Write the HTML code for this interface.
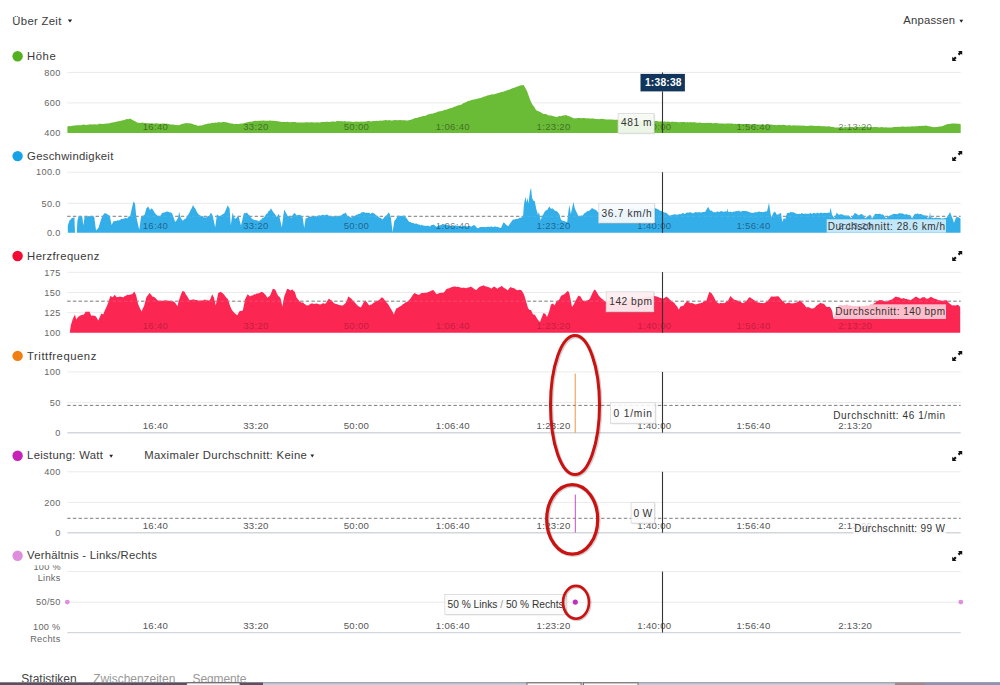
<!DOCTYPE html><html><head><meta charset="utf-8"><style>
html,body{margin:0;padding:0;background:#fff;width:1000px;height:685px;overflow:hidden}
svg{position:absolute;left:0;top:0}
text{font-family:"Liberation Sans",sans-serif}
</style></head><body>
<svg width="1000" height="685" viewBox="0 0 1000 685">
<text x="12.3" y="24.5" font-size="11.3" fill="#3a3a3a" textLength="49.0" lengthAdjust="spacing" >Über Zeit</text>
<path d="M67.8,19.6 L72.2,19.6 L70,22.6Z" fill="#222"/>
<text x="903.3" y="24.2" font-size="11.3" fill="#3a3a3a" textLength="51.7" lengthAdjust="spacing" >Anpassen</text>
<path d="M959.4,19.8 L963.2,19.8 L961.3,22.8Z" fill="#222"/>
<circle cx="17.6" cy="56.2" r="5.2" fill="#55b020"/>
<text x="27.1" y="59.8" font-size="11.3" fill="#3a3a3a" textLength="28.6" lengthAdjust="spacing" >Höhe</text>
<g transform="translate(952.2,50.9)" fill="#111"><path d="M5.8,0 L10,0 L10,4.2 L8.7,2.9 L7.1,4.5 L5.5,2.9 L7.1,1.3Z"/><path d="M0,5.8 L0,10 L4.2,10 L2.9,8.7 L4.5,7.1 L2.9,5.5 L1.3,7.1Z"/></g>
<circle cx="17.6" cy="156.1" r="5.2" fill="#18a2e6"/>
<text x="27.1" y="159.7" font-size="11.3" fill="#3a3a3a" textLength="86.2" lengthAdjust="spacing" >Geschwindigkeit</text>
<g transform="translate(952.2,150.9)" fill="#111"><path d="M5.8,0 L10,0 L10,4.2 L8.7,2.9 L7.1,4.5 L5.5,2.9 L7.1,1.3Z"/><path d="M0,5.8 L0,10 L4.2,10 L2.9,8.7 L4.5,7.1 L2.9,5.5 L1.3,7.1Z"/></g>
<circle cx="17.6" cy="256.0" r="5.2" fill="#f20a35"/>
<text x="27.1" y="259.6" font-size="11.3" fill="#3a3a3a" textLength="72.2" lengthAdjust="spacing" >Herzfrequenz</text>
<g transform="translate(952.2,250.9)" fill="#111"><path d="M5.8,0 L10,0 L10,4.2 L8.7,2.9 L7.1,4.5 L5.5,2.9 L7.1,1.3Z"/><path d="M0,5.8 L0,10 L4.2,10 L2.9,8.7 L4.5,7.1 L2.9,5.5 L1.3,7.1Z"/></g>
<circle cx="17.6" cy="355.9" r="5.2" fill="#ef7f12"/>
<text x="27.1" y="359.5" font-size="11.3" fill="#3a3a3a" textLength="69.2" lengthAdjust="spacing" >Trittfrequenz</text>
<g transform="translate(952.2,350.9)" fill="#111"><path d="M5.8,0 L10,0 L10,4.2 L8.7,2.9 L7.1,4.5 L5.5,2.9 L7.1,1.3Z"/><path d="M0,5.8 L0,10 L4.2,10 L2.9,8.7 L4.5,7.1 L2.9,5.5 L1.3,7.1Z"/></g>
<circle cx="17.6" cy="455.8" r="5.2" fill="#c622b8"/>
<text x="27.1" y="459.4" font-size="11.3" fill="#3a3a3a" textLength="75.8" lengthAdjust="spacing" >Leistung: Watt</text>
<g transform="translate(952.2,450.9)" fill="#111"><path d="M5.8,0 L10,0 L10,4.2 L8.7,2.9 L7.1,4.5 L5.5,2.9 L7.1,1.3Z"/><path d="M0,5.8 L0,10 L4.2,10 L2.9,8.7 L4.5,7.1 L2.9,5.5 L1.3,7.1Z"/></g>
<circle cx="17.6" cy="555.7" r="5.2" fill="#df8ede"/>
<text x="27.1" y="559.3" font-size="11.3" fill="#3a3a3a" textLength="129.7" lengthAdjust="spacing" >Verhältnis - Links/Rechts</text>
<g transform="translate(952.2,550.9)" fill="#111"><path d="M5.8,0 L10,0 L10,4.2 L8.7,2.9 L7.1,4.5 L5.5,2.9 L7.1,1.3Z"/><path d="M0,5.8 L0,10 L4.2,10 L2.9,8.7 L4.5,7.1 L2.9,5.5 L1.3,7.1Z"/></g>
<path d="M109.3,454.8 L113,454.8 L111.15,457.8Z" fill="#222"/>
<text x="144.2" y="459.2" font-size="11.3" fill="#3a3a3a" textLength="162.6" lengthAdjust="spacing" >Maximaler Durchschnitt: Keine</text>
<path d="M310.5,454.6 L314.1,454.6 L312.3,457.4Z" fill="#222"/>
<line x1="67.4" y1="72.4" x2="960.7" y2="72.4" stroke="#eaeaea" stroke-width="1"/>
<line x1="67.4" y1="102.9" x2="960.7" y2="102.9" stroke="#eaeaea" stroke-width="1"/>
<line x1="67.4" y1="172.2" x2="960.7" y2="172.2" stroke="#eaeaea" stroke-width="1"/>
<line x1="67.4" y1="203.3" x2="960.7" y2="203.3" stroke="#eaeaea" stroke-width="1"/>
<line x1="67.4" y1="371.9" x2="960.7" y2="371.9" stroke="#eaeaea" stroke-width="1"/>
<line x1="67.4" y1="402.6" x2="960.7" y2="402.6" stroke="#eaeaea" stroke-width="1"/>
<line x1="67.4" y1="471.8" x2="960.7" y2="471.8" stroke="#eaeaea" stroke-width="1"/>
<line x1="67.4" y1="502.4" x2="960.7" y2="502.4" stroke="#eaeaea" stroke-width="1"/>
<line x1="67.4" y1="571.6" x2="960.7" y2="571.6" stroke="#eaeaea" stroke-width="1"/>
<line x1="67.4" y1="602.2" x2="960.7" y2="602.2" stroke="#eaeaea" stroke-width="1"/>
<line x1="67.4" y1="272.3" x2="960.7" y2="272.3" stroke="#eaeaea" stroke-width="1"/>
<line x1="67.4" y1="292.5" x2="960.7" y2="292.5" stroke="#eaeaea" stroke-width="1"/>
<line x1="67.4" y1="312.6" x2="960.7" y2="312.6" stroke="#eaeaea" stroke-width="1"/>
<line x1="67.4" y1="432.7" x2="960.7" y2="432.7" stroke="#d3d6da" stroke-width="1.4"/>
<line x1="67.4" y1="532.7" x2="960.7" y2="532.7" stroke="#d3d6da" stroke-width="1.4"/>
<line x1="67.4" y1="632.6" x2="960.7" y2="632.6" stroke="#d3d6da" stroke-width="1.4"/>
<text x="60.6" y="75.6" font-size="9.2" fill="#666" text-anchor="end" letter-spacing="0.3">800</text>
<text x="60.6" y="106.1" font-size="9.2" fill="#666" text-anchor="end" letter-spacing="0.3">600</text>
<text x="60.6" y="136.1" font-size="9.2" fill="#666" text-anchor="end" letter-spacing="0.3">400</text>
<text x="60.6" y="175.4" font-size="9.2" fill="#666" text-anchor="end" letter-spacing="0.3">100.0</text>
<text x="60.6" y="206.5" font-size="9.2" fill="#666" text-anchor="end" letter-spacing="0.3">50.0</text>
<text x="60.6" y="236.0" font-size="9.2" fill="#666" text-anchor="end" letter-spacing="0.3">0.0</text>
<text x="60.6" y="375.1" font-size="9.2" fill="#666" text-anchor="end" letter-spacing="0.3">100</text>
<text x="60.6" y="405.8" font-size="9.2" fill="#666" text-anchor="end" letter-spacing="0.3">50</text>
<text x="60.6" y="435.9" font-size="9.2" fill="#666" text-anchor="end" letter-spacing="0.3">0</text>
<text x="60.6" y="475.0" font-size="9.2" fill="#666" text-anchor="end" letter-spacing="0.3">400</text>
<text x="60.6" y="505.6" font-size="9.2" fill="#666" text-anchor="end" letter-spacing="0.3">200</text>
<text x="60.6" y="535.9" font-size="9.2" fill="#666" text-anchor="end" letter-spacing="0.3">0</text>
<text x="60.6" y="275.5" font-size="9.2" fill="#666" text-anchor="end" letter-spacing="0.3">175</text>
<text x="60.6" y="295.7" font-size="9.2" fill="#666" text-anchor="end" letter-spacing="0.3">150</text>
<text x="60.6" y="315.8" font-size="9.2" fill="#666" text-anchor="end" letter-spacing="0.3">125</text>
<text x="60.6" y="335.9" font-size="9.2" fill="#666" text-anchor="end" letter-spacing="0.3">100</text>
<clipPath id="c1"><rect x="0" y="565.3" width="100" height="20"/></clipPath>
<text x="61" y="569.8" font-size="9.2" fill="#666" text-anchor="end" letter-spacing="0.3" clip-path="url(#c1)">100 %</text>
<text x="60.6" y="581" font-size="9.2" fill="#666" text-anchor="end" letter-spacing="0.3">Links</text>
<text x="60.6" y="605.4" font-size="9.2" fill="#666" text-anchor="end" letter-spacing="0.3">50/50</text>
<text x="60.6" y="629.8" font-size="9.2" fill="#666" text-anchor="end" letter-spacing="0.3">100 %</text>
<text x="60.6" y="641.6" font-size="9.2" fill="#666" text-anchor="end" letter-spacing="0.3">Rechts</text>
<line x1="67.2" y1="216.3" x2="960.7" y2="216.3" stroke="#707070" stroke-width="1" stroke-dasharray="3.4 2.28"/>
<line x1="67.2" y1="301.2" x2="960.7" y2="301.2" stroke="#6a6a6a" stroke-width="1" stroke-dasharray="3.4 2.28"/>
<line x1="67.2" y1="405.4" x2="960.7" y2="405.4" stroke="#7d7d7d" stroke-width="1" stroke-dasharray="3.4 2.28"/>
<line x1="67.2" y1="518.3" x2="960.7" y2="518.3" stroke="#7d7d7d" stroke-width="1" stroke-dasharray="3.4 2.28"/>
<path d="M67.4,132.9 L67.4,126.4 L68.9,126.0 L70.4,126.3 L71.9,126.0 L73.5,125.6 L75.0,125.5 L76.5,125.3 L78.0,125.2 L79.5,125.2 L81.0,125.2 L82.5,124.7 L84.0,124.6 L85.5,125.0 L87.0,124.7 L88.5,124.8 L90.0,124.3 L91.5,124.4 L93.0,124.5 L94.5,124.2 L96.0,124.5 L97.5,124.4 L99.0,123.8 L100.5,123.7 L102.0,123.9 L103.5,124.1 L105.0,123.7 L106.5,123.5 L108.0,123.6 L109.5,123.2 L111.0,122.7 L112.5,122.5 L114.0,122.3 L115.5,122.0 L117.0,121.5 L118.5,121.2 L120.0,121.0 L121.7,120.4 L123.3,120.2 L125.0,119.7 L126.7,119.1 L128.3,119.2 L130.0,118.6 L131.8,119.6 L133.5,120.6 L135.2,121.3 L137.0,122.4 L138.8,122.8 L140.5,122.9 L142.2,122.6 L144.0,123.0 L145.5,122.9 L147.1,123.2 L148.6,123.3 L150.2,123.4 L151.7,123.2 L153.2,123.5 L154.8,123.4 L156.3,123.3 L157.8,123.5 L159.4,123.7 L160.9,123.7 L162.5,123.6 L164.0,123.6 L165.6,123.8 L167.1,123.7 L168.7,124.0 L170.2,124.5 L171.8,124.4 L173.3,124.5 L174.9,124.9 L176.4,125.1 L178.0,125.2 L179.6,124.9 L181.2,124.2 L182.8,123.8 L184.4,123.4 L186.0,123.0 L187.7,123.3 L189.3,123.3 L191.0,123.4 L192.8,124.0 L194.5,124.7 L196.2,125.1 L198.0,126.0 L199.6,125.4 L201.1,125.4 L202.7,125.2 L204.2,124.6 L205.8,124.2 L207.3,123.7 L208.9,123.5 L210.4,123.4 L212.0,122.8 L213.5,122.9 L215.0,122.6 L216.5,122.7 L218.0,122.2 L219.5,122.3 L221.0,122.5 L222.5,122.1 L224.0,122.0 L225.7,122.3 L227.3,122.5 L229.0,123.0 L230.7,123.6 L232.3,123.4 L234.0,124.0 L235.5,124.1 L237.0,124.1 L238.5,124.1 L240.0,123.8 L241.6,123.6 L243.1,123.4 L244.7,122.9 L246.2,122.6 L247.8,122.2 L249.3,121.7 L250.9,121.8 L252.4,121.4 L254.0,121.0 L255.5,120.8 L257.0,120.9 L258.5,120.8 L260.0,120.8 L261.7,120.7 L263.3,120.6 L265.0,120.7 L266.7,120.7 L268.3,120.7 L270.0,120.6 L271.7,120.7 L273.3,120.7 L275.0,120.9 L276.7,121.1 L278.3,121.5 L280.0,121.6 L281.5,121.9 L283.1,121.9 L284.6,122.0 L286.2,122.1 L287.7,121.8 L289.2,122.3 L290.8,122.2 L292.3,122.0 L293.8,122.0 L295.4,122.1 L296.9,122.6 L298.5,122.4 L300.0,122.6 L301.5,122.4 L303.1,122.6 L304.6,122.5 L306.2,122.3 L307.7,122.3 L309.2,122.5 L310.8,122.3 L312.3,122.3 L313.8,122.6 L315.4,122.4 L316.9,122.3 L318.5,122.4 L320.0,122.4 L321.5,122.0 L323.1,122.1 L324.6,122.1 L326.2,121.8 L327.7,121.7 L329.2,122.1 L330.8,121.8 L332.3,121.5 L333.8,121.6 L335.4,121.7 L336.9,121.1 L338.5,121.0 L340.0,121.2 L341.5,121.0 L343.1,121.4 L344.6,121.1 L346.2,121.5 L347.7,121.5 L349.2,121.5 L350.8,121.4 L352.3,121.9 L353.8,121.8 L355.4,121.7 L356.9,121.5 L358.5,121.8 L360.0,121.8 L361.5,121.6 L363.1,121.7 L364.6,121.4 L366.2,121.5 L367.7,121.1 L369.2,121.1 L370.8,121.4 L372.3,121.3 L373.8,120.9 L375.4,121.1 L376.9,120.7 L378.5,121.0 L380.0,120.6 L381.5,120.7 L383.1,120.5 L384.6,120.3 L386.2,120.1 L387.7,120.6 L389.2,120.0 L390.8,120.5 L392.3,120.5 L393.8,120.2 L395.4,119.9 L396.9,120.3 L398.5,120.3 L400.0,120.0 L401.6,120.2 L403.2,120.2 L404.8,120.3 L406.4,120.4 L408.0,120.6 L409.5,120.0 L411.0,119.8 L412.5,119.2 L414.0,118.6 L415.5,118.1 L417.0,118.0 L418.5,117.3 L420.0,117.0 L421.6,116.6 L423.1,116.0 L424.7,115.9 L426.2,115.5 L427.8,114.5 L429.3,114.2 L430.9,113.8 L432.4,113.7 L434.0,113.0 L435.6,112.7 L437.1,112.0 L438.7,111.5 L440.2,111.3 L441.8,111.0 L443.3,110.6 L444.9,109.8 L446.4,109.7 L448.0,109.0 L449.5,108.6 L451.0,108.0 L452.5,107.8 L454.0,106.8 L455.5,106.6 L457.0,105.8 L458.5,105.3 L460.0,105.0 L461.6,104.4 L463.2,103.2 L464.8,102.8 L466.4,101.9 L468.0,101.0 L469.5,100.8 L471.0,100.2 L472.5,99.8 L474.0,99.4 L475.5,99.3 L477.0,98.8 L478.5,98.6 L480.0,98.0 L481.7,97.7 L483.3,96.8 L485.0,96.5 L486.7,95.8 L488.3,95.2 L490.0,95.0 L491.7,94.3 L493.3,94.4 L495.0,94.0 L496.7,93.6 L498.3,92.9 L500.0,92.6 L501.7,92.1 L503.3,91.7 L505.0,90.9 L506.7,90.5 L508.3,89.8 L510.0,89.4 L511.7,88.5 L513.3,87.9 L515.0,87.6 L516.7,86.8 L518.3,86.3 L520.0,85.4 L521.8,85.2 L523.6,85.0 L525.3,87.9 L527.0,91.0 L529.0,96.7 L531.0,102.0 L532.7,104.9 L534.3,107.0 L536.0,110.0 L537.6,110.9 L539.2,111.4 L540.8,112.2 L542.4,113.4 L544.0,114.0 L545.5,114.1 L547.0,114.6 L548.5,115.4 L550.0,115.5 L551.5,115.6 L553.0,116.1 L554.5,116.5 L556.0,117.0 L557.7,116.8 L559.3,116.1 L561.0,116.2 L562.7,115.6 L564.3,115.6 L566.0,115.0 L568.0,116.0 L570.0,116.6 L572.0,117.5 L574.0,118.6 L575.5,118.3 L577.0,118.3 L578.5,117.9 L580.0,118.0 L581.5,118.2 L583.1,117.9 L584.6,117.9 L586.2,118.6 L587.7,118.3 L589.2,118.5 L590.8,118.5 L592.3,118.5 L593.8,118.4 L595.4,119.0 L596.9,119.1 L598.5,119.2 L600.0,119.0 L601.5,118.8 L603.1,119.0 L604.6,119.3 L606.2,119.6 L607.7,119.4 L609.2,119.6 L610.8,119.6 L612.3,119.5 L613.8,119.7 L615.4,119.7 L616.9,119.7 L618.5,119.7 L620.0,120.0 L621.5,119.9 L623.1,120.4 L624.6,120.1 L626.2,120.3 L627.7,120.4 L629.2,120.6 L630.8,120.3 L632.3,120.3 L633.8,120.4 L635.4,120.4 L636.9,120.8 L638.5,120.9 L640.0,120.6 L641.5,120.7 L643.1,120.8 L644.6,120.9 L646.2,121.0 L647.7,120.8 L649.2,120.7 L650.8,120.9 L652.3,120.9 L653.8,121.2 L655.4,121.0 L656.9,121.0 L658.5,121.4 L660.0,121.4 L661.5,121.3 L663.1,121.7 L664.6,121.5 L666.2,121.8 L667.7,121.4 L669.2,121.7 L670.8,121.9 L672.3,121.5 L673.8,122.1 L675.4,121.7 L676.9,122.1 L678.5,122.2 L680.0,122.2 L681.5,121.9 L683.1,121.9 L684.6,122.1 L686.2,122.4 L687.7,122.1 L689.2,122.5 L690.8,122.1 L692.3,122.6 L693.8,122.1 L695.4,122.4 L696.9,122.7 L698.5,122.7 L700.0,122.6 L701.5,122.9 L703.1,122.9 L704.6,122.9 L706.2,122.9 L707.7,122.7 L709.2,122.9 L710.8,122.8 L712.3,123.2 L713.8,123.2 L715.4,123.0 L716.9,122.9 L718.5,123.5 L720.0,123.5 L721.5,123.4 L723.1,123.4 L724.6,123.7 L726.2,123.5 L727.7,123.5 L729.2,123.5 L730.8,123.5 L732.3,123.4 L733.8,123.9 L735.4,123.8 L736.9,123.9 L738.5,123.7 L740.0,124.0 L741.5,124.0 L743.1,123.9 L744.6,123.9 L746.2,124.0 L747.7,124.4 L749.2,124.2 L750.8,124.2 L752.3,124.4 L753.8,124.2 L755.4,124.1 L756.9,124.4 L758.5,124.5 L760.0,124.6 L761.5,124.5 L763.1,124.7 L764.6,124.8 L766.2,124.5 L767.7,124.7 L769.2,124.7 L770.8,124.6 L772.3,124.8 L773.8,124.9 L775.4,125.1 L776.9,125.2 L778.5,124.8 L780.0,125.0 L781.5,125.1 L783.1,124.8 L784.6,124.9 L786.2,125.2 L787.7,125.4 L789.2,125.0 L790.8,125.4 L792.3,125.5 L793.8,125.2 L795.4,125.5 L796.9,125.6 L798.5,125.4 L800.0,125.6 L801.5,125.7 L803.1,125.6 L804.6,125.8 L806.2,125.9 L807.7,126.0 L809.2,125.8 L810.8,125.6 L812.3,125.7 L813.8,125.7 L815.4,125.9 L816.9,126.1 L818.5,125.7 L820.0,126.0 L821.7,126.2 L823.3,126.3 L825.0,126.2 L826.7,126.4 L828.3,126.3 L830.0,126.6 L831.5,126.9 L833.0,126.7 L834.5,127.5 L836.0,127.4 L837.5,127.5 L839.0,127.4 L840.5,127.1 L842.0,127.5 L843.5,127.5 L845.0,127.0 L846.5,127.3 L848.0,127.3 L849.5,127.2 L851.0,127.1 L852.5,127.0 L854.0,127.2 L855.5,127.2 L857.0,126.8 L858.5,127.0 L860.0,126.8 L861.5,126.8 L863.1,126.7 L864.6,126.8 L866.1,126.7 L867.6,127.3 L869.2,127.3 L870.7,126.9 L872.2,127.2 L873.7,127.1 L875.3,127.0 L876.8,127.1 L878.3,127.2 L879.8,127.5 L881.4,127.1 L882.9,127.2 L884.4,127.4 L885.9,127.2 L887.5,127.6 L889.0,127.6 L890.6,127.6 L892.1,127.6 L893.7,127.1 L895.2,127.0 L896.8,127.1 L898.3,126.8 L899.9,126.9 L901.4,126.6 L903.0,126.6 L904.6,126.7 L906.2,126.7 L907.8,126.6 L909.3,126.7 L910.9,126.4 L912.5,126.3 L914.1,126.4 L915.7,126.3 L917.3,126.2 L918.9,126.0 L920.5,125.9 L922.0,125.7 L923.6,126.1 L925.2,125.6 L926.8,125.8 L928.7,126.3 L930.5,126.6 L932.4,127.0 L934.1,127.2 L935.8,127.0 L937.4,127.0 L939.1,126.5 L940.8,126.6 L942.7,125.9 L944.5,125.2 L946.4,124.5 L948.1,124.1 L949.9,124.0 L951.6,123.6 L953.4,123.4 L955.5,123.6 L957.6,123.8 L959.2,123.8 L960.7,124.3 L960.7,132.9Z" fill="#6abb36"/>
<path d="M67.8,232.8 L67.8,225.6 L69.6,220.2 L70.8,219.6 L72.0,217.8 L73.2,218.0 L74.4,217.0 L75.0,232.8 L76.8,232.8 L77.4,220.8 L78.6,216.6 L79.8,216.0 L81.0,216.0 L82.2,216.6 L83.4,225.6 L84.6,216.6 L86.0,216.9 L87.4,216.5 L88.8,216.0 L90.2,216.4 L91.5,216.0 L92.8,216.6 L94.2,216.6 L96.0,230.4 L97.2,229.3 L98.4,228.0 L99.9,223.3 L101.4,218.4 L102.6,216.0 L103.8,214.0 L105.0,213.0 L106.5,213.8 L108.0,214.8 L109.8,216.0 L111.6,225.0 L113.4,221.4 L114.8,220.9 L116.2,220.9 L117.6,220.2 L118.8,220.5 L120.0,220.0 L121.2,219.0 L122.4,218.9 L123.6,218.7 L124.8,218.3 L126.0,217.9 L127.2,218.4 L128.7,216.5 L130.2,216.0 L132.0,207.6 L133.5,201.6 L135.0,203.4 L136.2,216.0 L137.7,222.9 L139.2,229.8 L141.0,217.2 L142.8,216.0 L144.6,214.8 L146.4,208.2 L148.2,206.4 L150.0,210.0 L151.8,208.2 L153.3,210.3 L154.8,213.0 L157.2,215.4 L158.4,215.8 L159.6,216.6 L160.8,215.3 L162.0,213.0 L163.2,212.8 L164.4,212.6 L165.6,211.9 L166.8,211.4 L168.0,211.8 L169.4,212.2 L170.8,212.5 L172.2,213.6 L173.7,217.8 L175.2,222.0 L176.7,220.3 L178.2,217.2 L179.2,211.8 L180.4,217.2 L181.6,219.2 L182.8,220.8 L184.3,219.2 L185.8,218.4 L187.6,215.4 L189.1,213.3 L190.6,210.0 L191.8,207.9 L193.0,205.0 L194.2,207.2 L195.4,208.8 L197.2,212.4 L199.0,214.8 L200.2,215.6 L201.4,216.2 L202.6,216.0 L203.8,217.4 L205.0,217.2 L206.4,217.4 L207.8,215.9 L209.2,216.0 L211.0,212.4 L212.8,216.0 L215.2,227.4 L217.0,214.2 L218.2,215.5 L219.4,216.0 L221.0,215.5 L222.6,214.3 L224.2,213.6 L225.4,210.8 L226.6,208.0 L227.8,205.2 L229.6,208.8 L230.8,225.6 L232.6,212.4 L233.8,216.3 L235.0,219.0 L236.8,217.5 L238.6,216.0 L239.8,221.3 L241.0,225.6 L242.5,219.1 L244.0,213.0 L245.5,213.2 L247.0,212.4 L248.2,214.5 L249.4,215.3 L250.6,217.0 L251.8,218.4 L253.2,219.6 L254.7,219.9 L256.1,220.2 L257.6,220.4 L259.0,221.4 L260.2,220.1 L261.4,219.5 L262.6,217.7 L263.8,217.7 L265.0,216.0 L266.2,214.1 L267.4,213.5 L268.6,211.1 L269.8,210.4 L271.0,208.2 L272.5,210.9 L274.0,213.0 L275.5,215.1 L277.0,217.2 L278.8,213.6 L280.3,220.5 L281.8,227.4 L284.2,209.4 L285.4,211.8 L286.6,213.9 L287.8,216.0 L289.6,216.6 L291.4,217.8 L292.4,215.4 L293.6,213.8 L294.8,213.0 L296.6,215.4 L298.4,215.1 L300.2,214.8 L301.4,216.6 L302.6,217.2 L304.2,228.0 L305.6,218.4 L307.2,218.0 L308.8,216.6 L310.4,216.6 L311.6,216.9 L312.8,216.7 L314.0,216.9 L315.2,215.8 L316.4,216.4 L317.6,216.0 L319.0,215.2 L320.4,215.8 L321.8,215.1 L323.2,214.8 L324.6,215.5 L326.0,214.8 L327.2,214.6 L328.4,215.6 L329.6,216.4 L330.8,215.9 L332.0,216.6 L333.4,216.1 L334.8,216.9 L336.2,216.2 L337.6,216.5 L339.0,215.4 L340.4,216.0 L341.8,214.9 L343.1,213.7 L344.4,213.5 L345.8,212.4 L347.6,216.6 L349.2,216.2 L350.8,217.6 L352.4,217.2 L353.6,215.9 L354.8,216.3 L356.0,214.7 L357.2,214.8 L358.6,213.8 L359.9,213.9 L361.2,212.4 L362.6,212.2 L364.0,212.0 L365.3,212.9 L366.6,212.6 L368.0,213.0 L369.2,212.5 L370.4,213.9 L371.6,212.9 L372.8,212.8 L374.0,213.6 L375.2,214.2 L376.4,215.4 L377.6,216.0 L379.2,217.5 L380.8,217.9 L382.4,219.6 L383.6,218.2 L384.8,216.5 L386.0,216.0 L387.5,214.0 L389.0,212.2 L390.8,217.2 L392.6,232.2 L394.4,220.8 L395.6,219.4 L396.8,217.5 L398.0,215.4 L399.2,216.0 L400.4,215.8 L401.6,215.9 L402.8,215.7 L404.0,215.4 L405.4,216.9 L406.8,218.4 L409.2,222.0 L410.6,222.1 L411.9,223.1 L413.2,223.1 L414.6,223.8 L416.4,223.5 L418.2,224.4 L419.4,224.6 L420.6,225.5 L421.8,224.8 L423.0,225.6 L424.2,225.8 L425.4,225.7 L426.6,226.0 L427.8,225.6 L429.0,226.2 L430.2,226.4 L431.4,225.0 L432.6,225.0 L433.8,224.4 L436.2,226.8 L437.4,226.2 L438.6,225.2 L439.8,225.5 L441.0,225.0 L442.2,224.6 L443.4,224.5 L444.6,224.5 L445.8,224.8 L447.0,224.7 L448.2,225.5 L449.4,225.4 L450.6,226.2 L451.8,226.1 L453.0,225.6 L454.2,226.4 L455.4,225.3 L456.6,225.7 L457.8,225.5 L459.0,226.0 L460.2,226.1 L461.4,226.4 L462.6,226.4 L463.8,225.8 L465.0,226.2 L466.2,226.2 L467.4,226.5 L468.6,225.9 L469.8,226.0 L471.0,226.8 L472.5,225.8 L474.0,225.0 L475.5,226.0 L477.0,228.0 L478.2,228.2 L479.4,227.4 L480.6,227.1 L481.8,227.1 L483.0,227.0 L484.2,226.9 L485.4,227.2 L486.6,227.0 L487.8,226.7 L489.0,226.8 L490.2,226.9 L491.4,226.2 L492.6,227.0 L493.8,227.0 L495.0,226.2 L496.2,226.9 L497.4,226.8 L498.6,227.3 L499.8,227.8 L501.0,228.0 L503.4,222.6 L504.6,222.9 L505.8,224.4 L508.2,226.2 L509.7,224.0 L511.2,222.0 L513.0,219.6 L514.6,219.4 L516.2,218.8 L517.8,219.0 L519.5,217.8 L521.3,217.8 L523.1,215.6 L524.0,204.3 L525.4,196.7 L526.5,202.5 L527.4,198.0 L528.5,203.4 L529.9,191.7 L531.0,187.7 L532.1,198.0 L533.5,200.7 L534.8,201.2 L536.2,208.8 L538.0,215.1 L538.9,212.0 L540.2,217.8 L540.7,220.5 L542.0,216.0 L543.4,214.2 L544.7,211.5 L546.0,210.4 L547.4,209.7 L549.2,206.6 L551.0,208.8 L552.8,208.4 L554.6,210.6 L556.0,211.1 L557.3,211.5 L559.6,214.7 L560.9,219.6 L562.4,220.8 L563.9,221.0 L565.4,221.4 L567.2,222.3 L568.6,209.7 L569.5,205.2 L570.8,214.2 L572.6,206.1 L573.5,202.0 L574.9,208.8 L577.1,213.3 L578.9,216.9 L580.2,216.0 L581.6,215.6 L582.8,215.4 L584.0,213.6 L585.2,212.9 L587.0,211.3 L588.8,211.1 L590.4,209.8 L592.0,207.9 L594.2,209.3 L596.0,210.1 L597.8,212.0 L599.2,212.9 L600.6,212.4 L601.9,212.9 L603.2,212.4 L604.6,211.3 L606.0,211.6 L607.3,211.3 L608.6,211.2 L610.0,211.0 L611.2,210.5 L612.5,210.9 L613.8,210.0 L615.0,210.2 L616.2,210.2 L617.5,210.9 L618.8,209.5 L620.0,210.0 L621.2,210.2 L622.5,209.3 L623.8,209.7 L625.0,209.3 L626.2,209.3 L627.5,209.6 L628.8,209.0 L630.0,209.0 L631.2,208.5 L632.5,208.5 L633.8,208.4 L635.0,209.5 L636.2,209.2 L637.5,209.6 L638.8,209.3 L640.0,209.0 L641.2,208.3 L642.5,209.1 L643.8,209.2 L645.0,209.1 L646.2,208.7 L647.5,208.4 L648.8,208.5 L650.0,208.5 L651.6,208.8 L653.2,208.0 L654.8,208.2 L656.0,208.6 L657.2,209.0 L658.4,209.4 L659.6,210.6 L660.8,210.9 L662.0,211.0 L663.2,212.1 L664.4,212.4 L665.6,212.4 L666.8,213.2 L668.0,214.3 L669.2,215.8 L671.0,215.3 L672.8,214.8 L674.0,214.3 L675.2,214.4 L676.4,214.6 L677.6,214.8 L678.8,214.2 L680.0,213.9 L681.2,214.2 L682.4,213.0 L683.6,213.2 L684.8,213.9 L686.0,213.0 L687.2,212.4 L688.4,212.8 L689.6,212.2 L690.8,212.2 L692.0,213.3 L693.2,213.3 L694.4,212.8 L695.6,212.0 L696.8,212.2 L698.0,212.4 L699.2,211.9 L700.4,212.4 L701.6,212.4 L702.8,211.9 L704.0,211.9 L705.2,211.8 L707.0,208.8 L708.2,206.7 L710.0,210.6 L711.2,210.4 L712.4,211.3 L713.6,212.2 L714.8,212.2 L716.0,212.2 L717.2,211.4 L718.4,211.8 L719.6,211.9 L720.8,211.1 L722.0,211.2 L723.6,211.9 L725.2,211.3 L726.8,211.5 L727.4,208.2 L728.0,211.8 L729.2,212.0 L730.4,211.5 L731.6,212.3 L732.8,212.0 L734.0,211.5 L735.2,211.6 L736.4,210.9 L737.6,211.3 L738.8,210.6 L740.0,211.4 L741.2,211.7 L742.4,210.7 L743.6,211.1 L744.8,211.0 L746.0,211.0 L748.4,211.8 L749.6,212.0 L750.8,212.7 L752.0,212.7 L753.2,213.1 L754.4,212.6 L755.6,212.1 L756.8,212.6 L758.0,211.8 L759.3,211.5 L760.6,212.1 L761.9,211.9 L763.1,212.0 L764.4,212.1 L765.7,211.2 L767.0,211.5 L769.0,202.8 L770.2,211.2 L771.4,217.8 L773.2,213.0 L775.0,211.5 L776.8,214.8 L778.2,214.4 L779.6,213.5 L781.0,213.0 L782.2,222.0 L784.0,217.8 L785.2,219.6 L787.0,213.0 L788.2,212.8 L789.4,212.9 L790.6,211.8 L792.0,212.4 L793.3,212.0 L794.6,213.1 L796.0,213.6 L797.2,213.9 L798.4,214.1 L799.6,213.8 L800.8,214.0 L802.0,212.8 L803.2,214.1 L804.4,213.8 L805.6,213.6 L806.8,214.0 L808.0,213.4 L809.2,213.9 L810.4,212.8 L811.6,213.7 L812.8,213.6 L814.0,212.8 L815.2,213.5 L816.4,213.2 L817.6,212.6 L818.8,213.5 L820.0,213.0 L821.2,212.5 L822.4,213.2 L823.6,212.9 L824.8,212.7 L826.0,213.1 L827.2,213.0 L828.4,212.6 L829.6,213.0 L830.6,207.6 L832.0,214.8 L834.4,218.2 L836.8,212.4 L838.0,214.3 L839.2,214.8 L840.6,214.3 L841.9,214.3 L843.3,215.0 L844.7,215.6 L846.1,215.5 L847.4,215.7 L848.8,215.4 L850.0,216.8 L851.2,218.2 L853.0,215.8 L854.8,213.0 L856.0,213.6 L857.2,214.3 L858.4,215.4 L859.6,215.0 L860.8,213.9 L862.0,214.2 L863.2,214.9 L864.4,217.2 L865.6,218.2 L867.1,216.5 L868.5,216.1 L870.0,214.5 L872.0,218.5 L873.5,216.6 L875.0,214.0 L876.2,213.7 L877.5,214.0 L878.8,214.0 L880.0,213.5 L881.3,214.7 L882.7,214.3 L884.0,215.5 L886.0,218.5 L887.3,217.0 L888.7,216.3 L890.0,215.5 L891.2,215.1 L892.5,214.5 L893.8,213.7 L895.0,214.0 L896.2,213.9 L897.5,214.3 L898.8,213.3 L900.0,213.3 L901.2,213.6 L902.5,213.6 L903.8,213.9 L905.0,214.7 L906.2,214.1 L907.5,214.8 L908.8,214.8 L910.0,215.0 L912.0,218.5 L913.5,216.1 L915.0,213.5 L916.2,214.2 L917.5,213.2 L918.8,214.3 L920.0,214.0 L921.2,214.0 L922.4,214.8 L923.6,215.3 L924.8,215.4 L926.0,215.5 L928.0,218.5 L929.5,216.0 L930.0,212.0 L930.8,217.5 L932.2,217.5 L933.6,218.3 L935.0,218.0 L936.2,217.4 L937.5,218.2 L938.8,217.8 L940.0,218.0 L941.2,218.5 L942.5,218.4 L943.8,218.2 L945.0,218.0 L946.5,218.0 L947.8,215.7 L949.0,214.0 L950.0,212.0 L951.5,216.0 L952.8,219.1 L954.0,223.0 L956.0,217.5 L958.0,217.0 L959.2,217.7 L960.5,218.5 L960.5,232.8Z" fill="#34aee8"/>
<path d="M69.8,332.8 L69.8,332.6 L70.8,325.4 L72.6,319.4 L73.8,316.7 L75.0,314.6 L76.2,319.4 L78.0,317.0 L79.5,316.1 L81.0,315.2 L82.5,314.8 L84.0,314.6 L85.8,311.6 L87.0,311.7 L88.2,311.7 L89.4,311.6 L91.2,315.8 L92.8,315.6 L94.4,315.7 L96.0,316.4 L97.2,318.8 L98.4,320.6 L99.9,316.8 L101.4,313.4 L103.2,314.6 L105.0,310.1 L106.8,306.2 L108.0,303.3 L109.2,299.4 L110.4,296.0 L112.8,297.2 L114.6,294.8 L115.8,296.3 L117.0,297.2 L118.5,296.9 L120.0,296.6 L121.8,297.0 L123.6,297.2 L124.8,296.1 L126.0,295.7 L127.2,294.8 L128.8,295.0 L130.4,294.4 L132.0,294.2 L133.2,293.1 L134.4,291.6 L136.2,295.4 L138.0,303.8 L139.8,307.9 L141.6,311.6 L142.8,308.5 L144.0,306.2 L145.2,302.0 L146.4,297.2 L147.9,295.2 L149.4,293.0 L150.9,294.6 L152.4,296.6 L154.2,297.0 L156.0,298.4 L157.2,300.0 L158.4,300.8 L159.8,300.7 L161.3,300.8 L162.7,300.8 L164.2,300.5 L165.6,300.2 L166.8,300.8 L168.0,300.4 L169.2,301.0 L170.4,300.8 L171.6,301.5 L172.8,301.6 L174.0,301.4 L175.7,303.4 L177.4,306.2 L178.6,301.6 L179.8,297.8 L182.2,291.2 L183.4,291.2 L184.6,291.8 L185.8,294.4 L187.0,296.0 L188.2,298.0 L189.4,300.2 L191.0,300.1 L192.6,299.6 L194.2,299.6 L195.4,299.9 L196.6,300.1 L197.8,300.4 L199.0,300.8 L200.2,300.6 L201.4,300.4 L202.6,300.5 L203.8,300.0 L205.0,299.6 L206.2,300.2 L207.4,300.3 L208.6,300.5 L209.8,300.2 L212.2,294.2 L214.0,297.8 L215.8,305.6 L218.2,293.0 L219.4,292.6 L220.6,291.8 L222.4,293.0 L224.2,294.8 L225.4,296.6 L226.6,298.1 L227.8,299.0 L230.2,306.2 L231.4,309.0 L232.6,311.0 L233.8,312.3 L235.0,313.4 L236.2,314.5 L237.4,315.2 L238.6,312.8 L239.8,311.0 L241.3,311.0 L242.8,310.4 L245.2,299.0 L246.4,296.7 L247.6,294.2 L248.8,295.2 L250.0,296.6 L251.4,295.4 L252.8,295.4 L254.2,294.2 L255.4,294.5 L256.6,293.4 L257.8,293.6 L259.6,293.0 L261.4,291.8 L262.6,292.3 L263.8,293.0 L265.6,295.1 L267.4,297.8 L268.6,296.7 L269.8,296.0 L271.3,292.7 L272.8,288.8 L275.2,289.4 L276.7,293.1 L278.2,296.0 L279.4,296.7 L280.6,298.4 L282.4,306.8 L284.2,296.6 L285.7,292.8 L287.2,288.8 L288.7,289.2 L290.2,290.6 L292.4,289.6 L293.6,290.9 L294.8,291.8 L296.6,297.8 L298.1,299.4 L299.6,301.4 L301.4,302.4 L303.2,302.6 L304.4,304.1 L305.6,304.6 L306.8,305.6 L308.6,305.2 L310.4,303.8 L311.6,303.6 L312.8,303.4 L314.0,303.9 L315.2,303.8 L316.4,303.5 L317.6,303.8 L318.8,304.2 L320.0,304.4 L321.2,304.3 L322.4,303.6 L323.6,303.2 L324.8,303.8 L326.0,303.2 L327.5,300.6 L329.0,298.4 L330.5,300.1 L332.0,300.8 L333.5,302.7 L335.0,303.8 L336.4,304.1 L337.8,304.6 L339.2,305.0 L340.4,305.2 L341.6,305.5 L342.8,305.6 L344.6,303.9 L346.4,302.0 L348.2,296.6 L349.7,297.6 L351.2,298.4 L352.4,299.9 L353.6,301.6 L354.8,302.6 L356.6,304.4 L358.4,306.2 L359.6,306.7 L360.8,307.4 L362.3,304.9 L363.8,302.0 L365.6,300.8 L367.4,302.9 L369.2,305.6 L370.4,304.7 L371.6,304.6 L372.8,303.4 L374.0,302.6 L375.2,302.0 L376.4,300.9 L377.6,300.7 L378.8,300.2 L380.3,298.8 L381.8,297.2 L383.3,298.2 L384.8,300.2 L386.6,302.4 L388.4,304.4 L389.9,307.2 L391.4,309.8 L392.6,311.8 L393.8,314.6 L396.2,308.6 L397.6,307.9 L399.0,307.0 L400.4,306.2 L401.6,305.5 L402.8,304.3 L404.0,303.7 L405.2,302.6 L406.9,301.9 L408.6,300.8 L411.0,297.8 L412.2,295.7 L413.4,294.2 L414.6,293.0 L416.4,294.1 L418.2,294.8 L419.4,294.7 L420.6,293.4 L421.8,293.0 L423.0,292.9 L424.2,293.0 L425.4,292.7 L426.6,292.8 L428.4,291.9 L430.2,291.2 L431.7,290.4 L433.2,290.0 L434.4,291.3 L435.6,292.9 L436.8,294.2 L438.3,293.4 L439.8,293.0 L441.6,292.8 L443.4,292.8 L444.6,291.7 L445.8,289.7 L447.0,288.8 L448.2,288.5 L449.4,288.2 L450.6,287.6 L452.2,287.0 L453.8,286.5 L455.4,286.4 L456.6,287.0 L457.8,286.7 L459.0,287.0 L460.2,287.6 L461.4,287.7 L462.6,288.0 L463.8,287.6 L465.0,287.9 L466.2,288.2 L467.6,287.5 L469.0,287.5 L470.4,286.6 L471.9,287.3 L473.4,288.2 L474.9,289.5 L476.4,290.0 L477.9,288.2 L479.4,287.0 L480.8,286.2 L482.2,286.0 L483.6,285.2 L485.0,286.2 L486.4,286.4 L487.8,287.0 L489.6,287.6 L491.4,288.8 L492.9,287.3 L494.4,286.6 L495.9,287.7 L497.4,288.8 L498.8,287.5 L500.2,287.1 L501.6,285.8 L503.1,287.3 L504.6,288.2 L506.1,289.1 L507.6,290.6 L509.1,288.6 L510.6,287.0 L511.8,287.7 L513.0,287.9 L514.2,288.2 L516.6,290.0 L518.0,290.3 L519.4,289.8 L520.8,290.0 L522.0,291.0 L523.2,293.1 L524.5,296.0 L526.0,301.0 L528.0,308.0 L529.5,310.0 L531.0,310.0 L533.0,314.5 L534.5,314.5 L535.8,316.3 L537.0,318.5 L538.5,320.5 L540.0,322.0 L541.5,318.0 L543.5,313.0 L545.5,314.0 L547.0,317.0 L549.0,312.0 L551.0,304.5 L553.0,303.5 L554.5,305.5 L556.5,301.5 L557.8,300.5 L559.0,300.0 L561.0,296.0 L562.5,295.1 L564.0,294.5 L565.8,292.7 L567.5,291.0 L569.0,292.0 L570.5,299.0 L572.0,307.0 L574.0,304.0 L576.0,300.0 L577.2,297.7 L578.5,295.5 L580.5,296.5 L582.5,300.0 L584.5,301.5 L585.8,300.9 L587.0,300.5 L588.5,299.9 L590.0,298.5 L592.0,294.0 L593.2,291.4 L594.5,289.5 L595.8,290.5 L597.0,292.5 L598.5,295.2 L600.0,297.0 L601.5,298.6 L603.0,299.5 L604.2,301.0 L605.5,301.5 L606.7,301.3 L607.9,301.7 L609.1,301.6 L610.3,300.7 L611.5,301.1 L612.8,301.1 L614.0,300.8 L615.2,300.5 L616.4,300.2 L617.6,300.1 L618.8,299.9 L620.0,300.0 L621.2,299.4 L622.5,299.8 L623.8,299.4 L625.0,299.8 L626.2,298.9 L627.5,299.7 L628.8,299.3 L630.0,299.4 L631.2,299.3 L632.5,299.1 L633.8,298.7 L635.0,298.0 L636.2,298.6 L637.5,297.9 L638.8,297.9 L640.0,298.0 L641.3,298.0 L642.6,297.7 L643.9,297.4 L645.2,297.7 L646.5,297.2 L647.7,296.8 L649.0,296.5 L650.3,296.9 L651.6,296.3 L652.9,296.5 L654.2,296.0 L656.6,296.6 L658.1,297.1 L659.6,297.8 L661.1,298.1 L662.6,299.0 L663.8,298.2 L665.0,297.7 L666.2,296.6 L668.0,297.8 L669.8,299.6 L671.2,300.9 L672.6,302.0 L674.0,302.6 L675.5,304.7 L677.0,306.2 L678.8,309.8 L680.6,306.2 L682.1,306.2 L683.6,305.6 L684.8,303.5 L686.0,302.5 L687.2,300.8 L689.0,302.4 L690.8,303.2 L692.0,303.0 L693.2,303.6 L694.4,303.9 L695.6,304.4 L697.2,304.0 L698.8,303.5 L700.4,303.2 L701.6,302.7 L702.8,302.5 L704.0,301.3 L705.2,300.8 L706.4,300.8 L707.9,295.9 L709.4,291.8 L711.8,293.6 L713.0,295.4 L714.2,297.6 L715.4,300.2 L716.9,302.2 L718.4,303.2 L719.6,303.6 L720.8,302.8 L722.0,303.2 L723.2,303.0 L724.4,303.2 L725.6,302.2 L726.8,301.5 L728.0,300.8 L730.4,296.0 L731.6,297.3 L732.8,298.5 L734.0,299.6 L735.6,300.1 L737.2,300.5 L738.8,301.4 L740.0,301.8 L741.2,302.2 L742.4,303.2 L743.6,302.7 L744.8,302.2 L746.0,301.4 L747.2,299.9 L748.4,298.2 L749.6,297.2 L750.8,297.7 L752.0,298.7 L753.2,299.6 L754.8,300.7 L756.4,301.9 L758.0,302.6 L759.2,302.6 L760.4,303.1 L761.6,303.1 L762.8,303.0 L764.0,303.2 L765.7,302.2 L767.4,301.4 L768.6,299.8 L769.8,298.4 L771.0,296.6 L772.2,296.5 L773.4,296.7 L774.6,296.4 L776.0,296.4 L777.4,296.3 L778.8,296.6 L780.3,298.4 L781.8,300.2 L783.0,301.6 L784.2,302.2 L785.4,303.8 L786.6,303.3 L787.8,302.9 L789.0,302.6 L790.6,303.2 L792.2,303.4 L793.8,303.2 L795.3,302.8 L796.8,302.6 L798.3,301.8 L799.8,300.2 L801.0,301.7 L802.2,302.4 L803.4,303.8 L804.9,305.6 L806.4,307.4 L807.9,307.1 L809.4,307.6 L810.6,308.2 L811.8,308.4 L813.0,308.6 L814.2,308.0 L815.4,306.9 L816.6,305.6 L817.8,304.8 L819.0,304.0 L820.2,302.8 L822.0,303.4 L823.8,303.8 L825.0,304.9 L826.2,306.8 L828.0,306.9 L829.8,306.8 L831.0,308.4 L832.2,311.0 L833.4,318.8 L834.9,314.2 L836.5,310.5 L838.0,306.0 L839.4,305.3 L840.8,305.2 L842.2,305.0 L843.6,305.6 L845.0,305.0 L846.2,304.8 L847.5,304.8 L848.8,305.7 L850.0,305.1 L851.2,306.0 L852.5,305.9 L853.8,306.2 L855.0,306.0 L856.2,306.5 L857.5,306.1 L858.8,306.3 L860.0,305.5 L861.2,306.3 L862.5,306.0 L863.8,306.2 L865.0,306.0 L866.3,305.3 L867.7,305.7 L869.0,305.6 L870.3,304.5 L871.7,304.5 L873.0,304.4 L874.3,303.3 L875.7,302.5 L877.0,301.0 L878.5,300.5 L880.0,300.1 L881.5,300.2 L883.0,300.4 L884.5,301.3 L886.0,301.7 L887.2,301.5 L888.4,300.7 L889.6,300.2 L890.8,299.8 L892.0,299.5 L893.2,298.4 L894.5,297.4 L895.7,296.5 L898.0,297.2 L899.2,297.3 L900.5,298.2 L901.7,298.7 L904.0,298.0 L905.2,298.9 L906.4,298.8 L907.6,299.6 L908.8,299.4 L910.0,300.2 L911.2,299.7 L912.4,299.0 L913.6,298.2 L914.8,297.3 L916.0,296.5 L917.2,297.2 L918.5,298.1 L919.7,298.7 L920.9,298.6 L922.2,297.3 L923.4,297.2 L924.7,297.3 L925.9,298.4 L927.2,298.7 L928.5,298.5 L929.7,297.5 L931.0,296.8 L932.2,297.4 L933.5,298.3 L934.7,298.7 L935.9,298.9 L937.2,299.5 L938.4,300.2 L939.9,300.2 L941.5,300.8 L943.0,301.0 L944.2,300.5 L945.5,300.2 L946.7,300.2 L947.9,301.7 L949.2,303.2 L950.4,304.0 L952.0,305.5 L953.5,305.3 L955.0,305.5 L956.5,305.3 L958.0,304.7 L960.2,307.0 L960.2,332.8Z" fill="#fb2652"/>
<line x1="67.2" y1="216.3" x2="960.7" y2="216.3" stroke="rgba(255,255,255,0.10)" stroke-width="1" stroke-dasharray="3.4 2.28"/>
<line x1="67.2" y1="301.2" x2="960.7" y2="301.2" stroke="rgba(255,255,255,0.16)" stroke-width="1" stroke-dasharray="3.4 2.28"/>
<text x="155.5" y="129.5" font-size="9.6" fill="rgba(40,60,30,0.62)" text-anchor="middle" letter-spacing="0.3">16:40</text>
<text x="256" y="129.5" font-size="9.6" fill="rgba(40,60,30,0.62)" text-anchor="middle" letter-spacing="0.3">33:20</text>
<text x="356.5" y="129.5" font-size="9.6" fill="rgba(40,60,30,0.62)" text-anchor="middle" letter-spacing="0.3">50:00</text>
<text x="452.9" y="129.5" font-size="9.6" fill="rgba(40,60,30,0.62)" text-anchor="middle" letter-spacing="0.3">1:06:40</text>
<text x="553.6" y="129.5" font-size="9.6" fill="rgba(40,60,30,0.62)" text-anchor="middle" letter-spacing="0.3">1:23:20</text>
<text x="654.4" y="129.5" font-size="9.6" fill="rgba(40,60,30,0.62)" text-anchor="middle" letter-spacing="0.3">1:40:00</text>
<text x="753.5" y="129.5" font-size="9.6" fill="rgba(40,60,30,0.62)" text-anchor="middle" letter-spacing="0.3">1:56:40</text>
<text x="855.2" y="129.5" font-size="9.6" fill="rgba(40,60,30,0.62)" text-anchor="middle" letter-spacing="0.3">2:13:20</text>
<text x="155.5" y="229.4" font-size="9.6" fill="rgba(20,50,80,0.62)" text-anchor="middle" letter-spacing="0.3">16:40</text>
<text x="256" y="229.4" font-size="9.6" fill="rgba(20,50,80,0.62)" text-anchor="middle" letter-spacing="0.3">33:20</text>
<text x="356.5" y="229.4" font-size="9.6" fill="rgba(20,50,80,0.62)" text-anchor="middle" letter-spacing="0.3">50:00</text>
<text x="452.9" y="229.4" font-size="9.6" fill="rgba(20,50,80,0.62)" text-anchor="middle" letter-spacing="0.3">1:06:40</text>
<text x="553.6" y="229.4" font-size="9.6" fill="rgba(20,50,80,0.62)" text-anchor="middle" letter-spacing="0.3">1:23:20</text>
<text x="654.4" y="229.4" font-size="9.6" fill="rgba(20,50,80,0.62)" text-anchor="middle" letter-spacing="0.3">1:40:00</text>
<text x="753.5" y="229.4" font-size="9.6" fill="rgba(20,50,80,0.62)" text-anchor="middle" letter-spacing="0.3">1:56:40</text>
<text x="855.2" y="229.4" font-size="9.6" fill="rgba(20,50,80,0.62)" text-anchor="middle" letter-spacing="0.3">2:13:20</text>
<text x="155.5" y="329.4" font-size="9.6" fill="rgba(110,20,40,0.42)" text-anchor="middle" letter-spacing="0.3">16:40</text>
<text x="256" y="329.4" font-size="9.6" fill="rgba(110,20,40,0.42)" text-anchor="middle" letter-spacing="0.3">33:20</text>
<text x="356.5" y="329.4" font-size="9.6" fill="rgba(110,20,40,0.42)" text-anchor="middle" letter-spacing="0.3">50:00</text>
<text x="452.9" y="329.4" font-size="9.6" fill="rgba(110,20,40,0.42)" text-anchor="middle" letter-spacing="0.3">1:06:40</text>
<text x="553.6" y="329.4" font-size="9.6" fill="rgba(110,20,40,0.42)" text-anchor="middle" letter-spacing="0.3">1:23:20</text>
<text x="654.4" y="329.4" font-size="9.6" fill="rgba(110,20,40,0.42)" text-anchor="middle" letter-spacing="0.3">1:40:00</text>
<text x="753.5" y="329.4" font-size="9.6" fill="rgba(110,20,40,0.42)" text-anchor="middle" letter-spacing="0.3">1:56:40</text>
<text x="855.2" y="329.4" font-size="9.6" fill="rgba(110,20,40,0.42)" text-anchor="middle" letter-spacing="0.3">2:13:20</text>
<text x="155.5" y="429.3" font-size="9.6" fill="#555" text-anchor="middle" letter-spacing="0.3">16:40</text>
<text x="256" y="429.3" font-size="9.6" fill="#555" text-anchor="middle" letter-spacing="0.3">33:20</text>
<text x="356.5" y="429.3" font-size="9.6" fill="#555" text-anchor="middle" letter-spacing="0.3">50:00</text>
<text x="452.9" y="429.3" font-size="9.6" fill="#555" text-anchor="middle" letter-spacing="0.3">1:06:40</text>
<text x="553.6" y="429.3" font-size="9.6" fill="#555" text-anchor="middle" letter-spacing="0.3">1:23:20</text>
<text x="654.4" y="429.3" font-size="9.6" fill="#555" text-anchor="middle" letter-spacing="0.3">1:40:00</text>
<text x="753.5" y="429.3" font-size="9.6" fill="#555" text-anchor="middle" letter-spacing="0.3">1:56:40</text>
<text x="855.2" y="429.3" font-size="9.6" fill="#555" text-anchor="middle" letter-spacing="0.3">2:13:20</text>
<text x="155.5" y="529.3" font-size="9.6" fill="#555" text-anchor="middle" letter-spacing="0.3">16:40</text>
<text x="256" y="529.3" font-size="9.6" fill="#555" text-anchor="middle" letter-spacing="0.3">33:20</text>
<text x="356.5" y="529.3" font-size="9.6" fill="#555" text-anchor="middle" letter-spacing="0.3">50:00</text>
<text x="452.9" y="529.3" font-size="9.6" fill="#555" text-anchor="middle" letter-spacing="0.3">1:06:40</text>
<text x="553.6" y="529.3" font-size="9.6" fill="#555" text-anchor="middle" letter-spacing="0.3">1:23:20</text>
<text x="654.4" y="529.3" font-size="9.6" fill="#555" text-anchor="middle" letter-spacing="0.3">1:40:00</text>
<text x="753.5" y="529.3" font-size="9.6" fill="#555" text-anchor="middle" letter-spacing="0.3">1:56:40</text>
<text x="855.2" y="529.3" font-size="9.6" fill="#555" text-anchor="middle" letter-spacing="0.3">2:13:20</text>
<text x="155.5" y="629.2" font-size="9.6" fill="#555" text-anchor="middle" letter-spacing="0.3">16:40</text>
<text x="256" y="629.2" font-size="9.6" fill="#555" text-anchor="middle" letter-spacing="0.3">33:20</text>
<text x="356.5" y="629.2" font-size="9.6" fill="#555" text-anchor="middle" letter-spacing="0.3">50:00</text>
<text x="452.9" y="629.2" font-size="9.6" fill="#555" text-anchor="middle" letter-spacing="0.3">1:06:40</text>
<text x="553.6" y="629.2" font-size="9.6" fill="#555" text-anchor="middle" letter-spacing="0.3">1:23:20</text>
<text x="654.4" y="629.2" font-size="9.6" fill="#555" text-anchor="middle" letter-spacing="0.3">1:40:00</text>
<text x="753.5" y="629.2" font-size="9.6" fill="#555" text-anchor="middle" letter-spacing="0.3">1:56:40</text>
<text x="855.2" y="629.2" font-size="9.6" fill="#555" text-anchor="middle" letter-spacing="0.3">2:13:20</text>
<line x1="575.2" y1="373.6" x2="575.2" y2="432.6" stroke="#e88a2a" stroke-width="0.9"/>
<line x1="575.3" y1="494.6" x2="575.3" y2="532.6" stroke="#c050c0" stroke-width="1"/>
<circle cx="67.3" cy="602.1" r="2.4" fill="#e08ee0"/>
<circle cx="960.8" cy="602.1" r="2.4" fill="#e08ee0"/>
<circle cx="575.3" cy="602.1" r="2.6" fill="#c030c0"/>
<line x1="662.5" y1="91.4" x2="662.5" y2="132.9" stroke="#333" stroke-width="1.1"/>
<line x1="662.5" y1="172.2" x2="662.5" y2="232.8" stroke="#333" stroke-width="1.1"/>
<line x1="662.5" y1="272.1" x2="662.5" y2="332.8" stroke="#333" stroke-width="1.1"/>
<line x1="662.5" y1="371.9" x2="662.5" y2="432.7" stroke="#333" stroke-width="1.1"/>
<line x1="662.5" y1="471.8" x2="662.5" y2="532.7" stroke="#333" stroke-width="1.1"/>
<line x1="662.5" y1="571.6" x2="662.5" y2="632.6" stroke="#333" stroke-width="1.1"/>
<line x1="662.5" y1="72.4" x2="662.5" y2="74" stroke="#333" stroke-width="1.1"/>
<rect x="619.1" y="114.4" width="36.0" height="19.799999999999983" fill="rgba(0,0,0,0.12)"/>
<rect x="618.1" y="113.4" width="36.0" height="19.799999999999983" fill="rgba(248,252,244,0.93)" stroke="#d8d8d8" stroke-width="0.8"/>
<text x="620.9" y="126.4" font-size="10.2" fill="#333" textLength="30.7" lengthAdjust="spacing" >481 m</text>
<rect x="599.8" y="204.4" width="55.60000000000002" height="19.599999999999994" fill="rgba(0,0,0,0.12)"/>
<rect x="598.8" y="203.4" width="55.60000000000002" height="19.599999999999994" fill="rgba(250,253,255,0.93)" stroke="#d8d8d8" stroke-width="0.8"/>
<text x="601.5" y="216.6" font-size="10.2" fill="#333" textLength="50.2" lengthAdjust="spacing" >36.7 km/h</text>
<rect x="607.2" y="292.8" width="47.59999999999991" height="20.0" fill="rgba(0,0,0,0.12)"/>
<rect x="606.2" y="291.8" width="47.59999999999991" height="20.0" fill="rgba(255,240,243,0.93)" stroke="#d8d8d8" stroke-width="0.8"/>
<text x="609.3" y="305.0" font-size="10.2" fill="#333" textLength="42.6" lengthAdjust="spacing" >142 bpm</text>
<rect x="611.5" y="403.7" width="44.799999999999955" height="20.600000000000023" fill="rgba(0,0,0,0.12)"/>
<rect x="610.5" y="402.7" width="44.799999999999955" height="20.600000000000023" fill="rgba(255,255,255,0.88)" stroke="#d8d8d8" stroke-width="0.8"/>
<text x="613.5" y="416.8" font-size="10.2" fill="#333" textLength="38.4" lengthAdjust="spacing" >0 1/min</text>
<rect x="632.1" y="503.5" width="23.399999999999977" height="20.700000000000045" fill="rgba(0,0,0,0.12)"/>
<rect x="631.1" y="502.5" width="23.399999999999977" height="20.700000000000045" fill="rgba(255,255,255,0.88)" stroke="#d8d8d8" stroke-width="0.8"/>
<text x="633.6" y="516.9" font-size="10.2" fill="#333" textLength="18.4" lengthAdjust="spacing" >0 W</text>
<rect x="445.8" y="595.4" width="121.59999999999997" height="20.0" fill="rgba(0,0,0,0.12)"/>
<rect x="444.8" y="594.4" width="121.59999999999997" height="20.0" fill="rgba(255,255,255,0.88)" stroke="#d8d8d8" stroke-width="0.8"/>
<text x="447.5" y="608.0" font-size="10.2" fill="#333" textLength="116.2" lengthAdjust="spacing" >50 % Links <tspan fill="#999">/</tspan> 50 % Rechts</text>
<rect x="640.5" y="73.9" width="44.4" height="17.5" fill="#12355b"/>
<text x="644.9" y="86.0" font-size="10.3" fill="#fff" textLength="36.7" lengthAdjust="spacing" font-weight="bold">1:38:38</text>
<rect x="826.7" y="219.3" width="119.29999999999995" height="13.299999999999983" fill="rgba(255,255,255,0.7)"/>
<text x="827.7" y="229.5" font-size="10" fill="#333" textLength="117.3" lengthAdjust="spacing" >Durchschnitt: 28.6 km/h</text>
<text x="855.2" y="229.4" font-size="9.6" fill="rgba(20,50,80,0.6)" text-anchor="middle" letter-spacing="0.3">2:13:20</text>
<rect x="833.8" y="304.3" width="112.20000000000005" height="14.699999999999989" fill="rgba(255,255,255,0.7)"/>
<text x="835.2" y="315.2" font-size="10" fill="#333" textLength="109.8" lengthAdjust="spacing" >Durchschnitt: 140 bpm</text>
<rect x="832" y="408" width="114" height="13" fill="rgba(255,255,255,0.7)"/>
<text x="833.3" y="418.7" font-size="10" fill="#333" textLength="111.7" lengthAdjust="spacing" >Durchschnitt: 46 1/min</text>
<rect x="853" y="520" width="93" height="15" fill="rgba(255,255,255,0.75)"/>
<text x="854.3" y="531.8" font-size="10" fill="#333" textLength="90.7" lengthAdjust="spacing" >Durchschnitt: 99 W</text>
<ellipse cx="575.8" cy="405.90000000000003" rx="24.5" ry="69.5" fill="none" stroke="rgba(0,0,0,0.18)" stroke-width="4"/>
<ellipse cx="575" cy="405.1" rx="24.5" ry="69.5" fill="none" stroke="#cc1111" stroke-width="3"/>
<ellipse cx="573.0" cy="520.1999999999999" rx="25.5" ry="34.8" fill="none" stroke="rgba(0,0,0,0.18)" stroke-width="4.2"/>
<ellipse cx="572.2" cy="519.4" rx="25.5" ry="34.8" fill="none" stroke="#cc1111" stroke-width="3.2"/>
<ellipse cx="576.8" cy="603.0999999999999" rx="13.0" ry="16.4" fill="none" stroke="rgba(0,0,0,0.18)" stroke-width="3.6"/>
<ellipse cx="576.0" cy="602.3" rx="13.0" ry="16.4" fill="none" stroke="#cc1111" stroke-width="2.6"/>
<text x="21.3" y="683.3" font-size="12" fill="#444" textLength="55.4" lengthAdjust="spacing" >Statistiken</text>
<text x="93.2" y="683.3" font-size="12" fill="#999" textLength="82.2" lengthAdjust="spacing" >Zwischenzeiten</text>
<text x="192.5" y="683.3" font-size="12" fill="#999" textLength="54.0" lengthAdjust="spacing" >Segmente</text>
<rect x="0" y="682.3" width="1000" height="2.7" fill="#c3ccda"/>
<rect x="0" y="682.3" width="1000" height="0.9" fill="#8a8f98"/>
<rect x="0" y="682.6" width="263" height="2.4" fill="#5a5060"/>
<rect x="895" y="682.8" width="30" height="2.2" fill="#a08890"/>
<rect x="925" y="682.8" width="75" height="2.2" fill="#8c92b8"/>
<rect x="186.7" y="682.9" width="53.30000000000001" height="3" fill="#fbfbfb" stroke="#555" stroke-width="0.8"/>
<rect x="527" y="682.9" width="54" height="3" fill="#fbfbfb" stroke="#555" stroke-width="0.8"/>
<rect x="583.5" y="682.9" width="54.5" height="3" fill="#fbfbfb" stroke="#555" stroke-width="0.8"/>
</svg></body></html>
